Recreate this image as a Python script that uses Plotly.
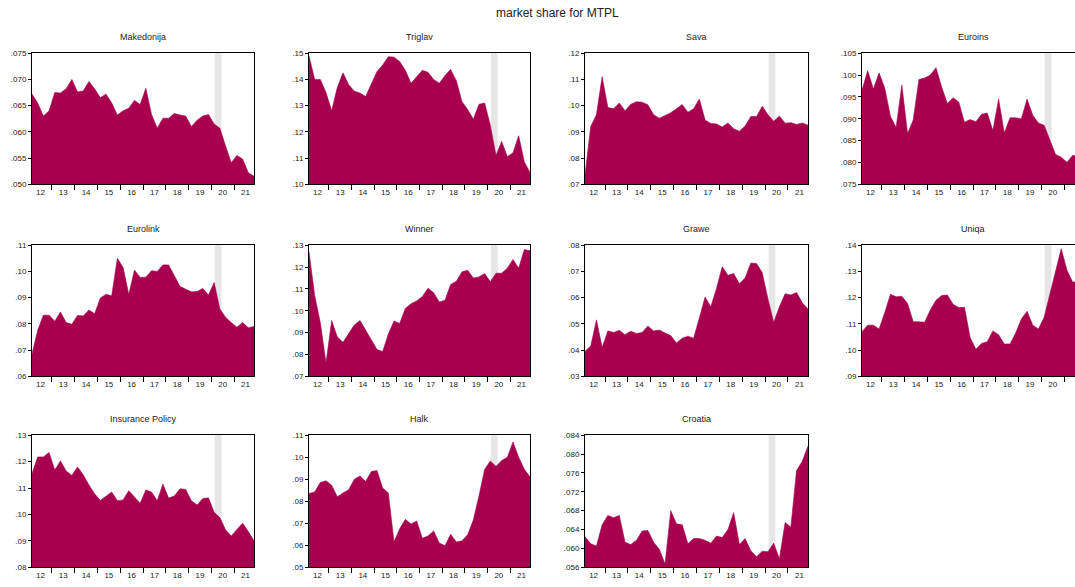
import plotly.graph_objects as go
from plotly.subplots import make_subplots

# Quarterly observations 2012Q1 .. 2021Q4 (40 periods), plotted on a period index
periods = [f"{y}Q{q}" for y in range(2012, 2022) for q in range(1, 5)]
year_labels = ["12", "13", "14", "15", "16", "17", "18", "19", "20", "21"]

makedonija = [.0672, .0655, .0630, .0640, .0675, .0674, .0682, .0700, .0676, .0678,
              .0696, .0682, .0665, .0672, .0655, .0632, .0640, .0645, .0660, .0652,
              .0683, .0633, .0607, .0626, .0626, .0635, .0632, .0630, .0610, .0622,
              .0630, .0633, .0615, .0607, .0573, .0541, .0555, .0548, .0522, .0515]
triglav = [.1490, .1400, .1400, .1350, .1280, .1370, .1425, .1380, .1355, .1348,
           .1335, .1380, .1430, .1455, .1487, .1485, .1468, .1435, .1385, .1410,
           .1435, .1427, .1400, .1385, .1415, .1438, .1395, .1315, .1285, .1248,
           .1305, .1310, .1225, .1110, .1163, .1105, .1120, .1185, .1085, .1045]
sava = [.0735, .0920, .0965, .1110, .0993, .0988, .1010, .0980, .1005, .1015,
        .1013, .1003, .0965, .0952, .0962, .0973, .0988, .1004, .0975, .0988,
        .1025, .0945, .0932, .0930, .0918, .0934, .0912, .0902, .0922, .0958,
        .0958, .0998, .0965, .0940, .0960, .0933, .0935, .0928, .0934, .0925]
euroins = [.0965, .1010, .0968, .1005, .0970, .0905, .0880, .0977, .0866, .0897,
           .0990, .0993, .1000, .1017, .0972, .0935, .0948, .0938, .0892, .0898,
           .0893, .0910, .0913, .0873, .0945, .0867, .0902, .0902, .0900, .0945,
           .0908, .0890, .0885, .0852, .0818, .0812, .0800, .0816, .0815, .0818]
eurolink = [.0685, .0775, .0833, .0833, .0810, .0845, .0805, .0798, .0832, .0830,
            .0853, .0838, .0898, .0913, .0907, .1050, .1015, .0912, .1005, .0977,
            .0978, .1003, .1000, .1025, .1025, .0985, .0943, .0932, .0922, .0923,
            .0935, .0910, .0958, .0857, .0825, .0805, .0787, .0805, .0785, .0790]
winner = [.1270, .1070, .0945, .0760, .0955, .0880, .0855, .0893, .0935, .0955,
          .0910, .0868, .0822, .0813, .0893, .0953, .0942, .1010, .1032, .1045,
          .1065, .1103, .1082, .1040, .1048, .1120, .1135, .1178, .1185, .1150,
          .1155, .1170, .1133, .1172, .1172, .1195, .1235, .1195, .1280, .1275]
grawe = [.0395, .0415, .0515, .0410, .0473, .0467, .0475, .0458, .0472, .0463,
         .0467, .0492, .0473, .0476, .0465, .0455, .0427, .0445, .0453, .0445,
         .0522, .0602, .0565, .0635, .0718, .0685, .0692, .0653, .0675, .0732,
         .0730, .0695, .0595, .0505, .0565, .0615, .0610, .0620, .0580, .0557]
uniqa = [.1070, .1095, .1095, .1080, .1143, .1213, .1203, .1205, .1178, .1108,
         .1108, .1106, .1153, .1190, .1208, .1210, .1175, .1162, .1163, .1048,
         .1003, .1025, .1032, .1073, .1058, .1023, .1023, .1065, .1118, .1148,
         .1095, .1080, .1125, .1215, .1308, .1387, .1305, .1260, .1260, .1250]
insurance_policy = [.1155, .1218, .1218, .1235, .1168, .1203, .1165, .1148, .1180, .1150,
                    .1112, .1078, .1053, .1070, .1085, .1052, .1055, .1090, .1068, .1042,
                    .1093, .1085, .1052, .1115, .1062, .1070, .1097, .1095, .1052, .1036,
                    .1060, .1063, .1008, .0988, .0942, .0918, .0943, .0967, .0935, .0900]
halk = [.0835, .0842, .0885, .0893, .0873, .0820, .0838, .0852, .0900, .0915,
        .0890, .0935, .0940, .0860, .0838, .0615, .0675, .0718, .0697, .0710,
        .0632, .0642, .0665, .0610, .0598, .0650, .0615, .0620, .0648, .0715,
        .0825, .0945, .0983, .0958, .0985, .1000, .1070, .1000, .0945, .0910]
croatia = [.0625, .0610, .0605, .0650, .0670, .0665, .0670, .0613, .0608, .0617,
           .0637, .0638, .0613, .0598, .0567, .0680, .0652, .0650, .0610, .0621,
           .0621, .0617, .0611, .0626, .0623, .0640, .0676, .0608, .0621, .0595,
           .0582, .0594, .0593, .0611, .0578, .0655, .0645, .0765, .0785, .0817]

# (title, series, axis min, axis max, tick step, decimals)
panels = [
    ("Makedonija", makedonija, .050, .075, .005, 3),
    ("Triglav", triglav, .10, .15, .01, 2),
    ("Sava", sava, .07, .12, .01, 2),
    ("Euroins", euroins, .075, .105, .005, 3),
    ("Eurolink", eurolink, .06, .11, .01, 2),
    ("Winner", winner, .07, .13, .01, 2),
    ("Grawe", grawe, .03, .08, .01, 2),
    ("Uniqa", uniqa, .09, .14, .01, 2),
    ("Insurance Policy", insurance_policy, .08, .13, .01, 2),
    ("Halk", halk, .05, .11, .01, 2),
    ("Croatia", croatia, .056, .084, .004, 3),
]

# Shaded period (2020 recession)
shade_start, shade_end = 32.1, 33.3

FILL = "#A8004F"
SHADE = "#E6E6E6"
FONT = "Liberation Sans, Arial, sans-serif"
W, H = 1075, 587

# Plot-area placement in pixels
col_px = [(32, 254), (309, 530), (585, 808), (862, 1084)]
row_px = [(50, 183), (245, 378), (438, 572)]
title_y_px = [34, 228, 421]

idx = list(range(len(periods)))
n_last = len(periods) - 1

fig = make_subplots(rows=3, cols=4,
                    specs=[[{}, {}, {}, {}], [{}, {}, {}, {}], [{}, {}, {}, None]])


def fmt_tick(v, dec):
    s = f"{v:.{dec}f}"
    return s[1:] if s.startswith("0") else s


for k, (name, vals, lo, hi, step, dec) in enumerate(panels):
    r, c = k // 4 + 1, k % 4 + 1
    x0p, x1p = col_px[c - 1]
    y0p, y1p = row_px[r - 1]
    px_per_q = (x1p - x0p) / n_last
    cropped = x1p > W
    x_hi = (W - x0p) / px_per_q if cropped else n_last
    dom_x = [x0p / W, min(x1p, W) / W]
    dom_y = [1 - y1p / H, 1 - y0p / H]

    fig.add_trace(go.Scatter(x=idx, y=vals, mode="lines", fill="tozeroy",
                             fillcolor=FILL, line=dict(color=FILL, width=0.6),
                             hoverinfo="skip", showlegend=False), row=r, col=c)

    fig.add_vrect(x0=shade_start, x1=shade_end, fillcolor=SHADE, opacity=1,
                  line_width=0, layer="below", row=r, col=c)

    nt = int(round((hi - lo) / step))
    yt = [lo + i * step for i in range(nt + 1)]
    fig.update_yaxes(row=r, col=c, domain=dom_y, range=[lo, hi],
                     tickvals=yt, ticktext=[fmt_tick(v, dec) for v in yt],
                     ticks="outside", ticklen=3, tickwidth=1, tickcolor="black",
                     showline=True, linecolor="black", linewidth=1,
                     mirror=not cropped, showgrid=False, zeroline=False,
                     tickfont=dict(size=8, color="#222", family=FONT))
    fig.update_xaxes(row=r, col=c, domain=dom_x, range=[0, x_hi],
                     tickvals=[1.5 + 4 * i for i in range(len(year_labels))],
                     ticktext=year_labels, ticks="",
                     minor=dict(tickmode="array",
                                tickvals=[3.5 + 4 * i for i in range(len(year_labels) - 1)],
                                ticks="outside", ticklen=5, tickcolor="black", tickwidth=1,
                                showgrid=False),
                     showline=True, linecolor="black", linewidth=1, mirror=True,
                     showgrid=False, zeroline=False,
                     tickfont=dict(size=8, color="#222", family=FONT))

    fig.add_annotation(text=name, x=((x0p + x1p) / 2) / W, y=1 - title_y_px[r - 1] / H,
                       xref="paper", yref="paper", showarrow=False,
                       xanchor="center", yanchor="middle",
                       font=dict(size=9, color="#222", family=FONT))

fig.add_annotation(text="market share for MTPL", x=557 / W, y=1 - 9 / H,
                   xref="paper", yref="paper", showarrow=False,
                   xanchor="center", yanchor="middle",
                   font=dict(size=12, color="#222", family=FONT))

fig.update_layout(width=W, height=H, margin=dict(l=0, r=0, t=0, b=0),
                  paper_bgcolor="white", plot_bgcolor="white",
                  font=dict(family=FONT))

fig.write_html("out.html")
